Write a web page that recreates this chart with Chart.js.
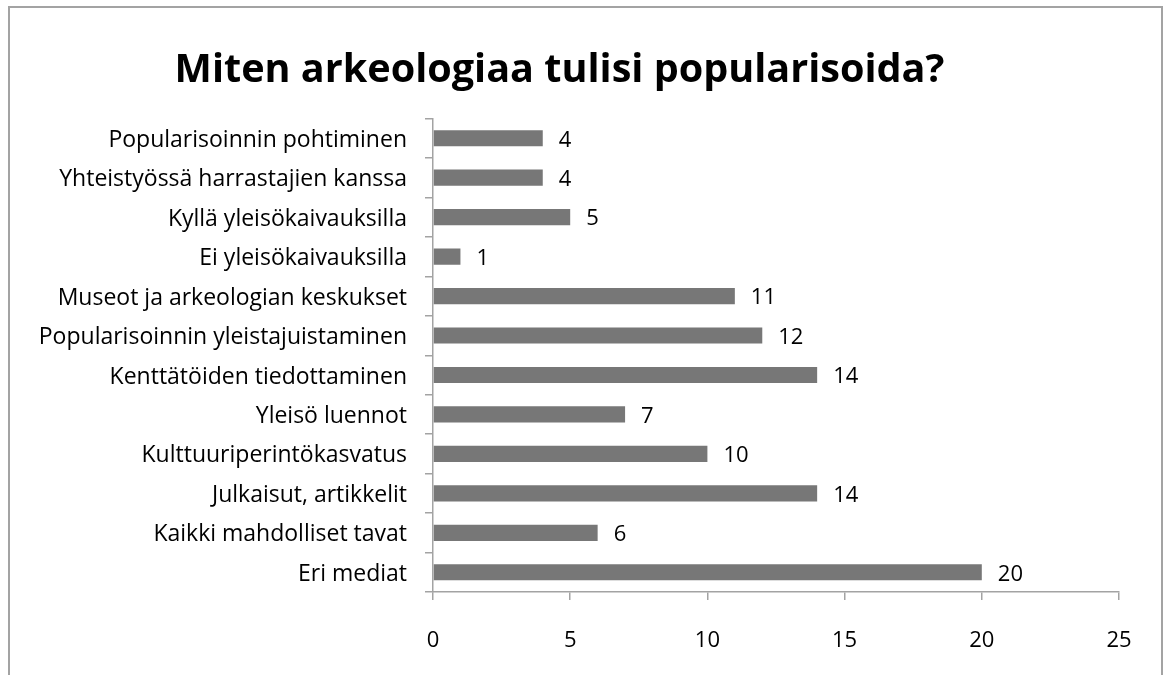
<!DOCTYPE html>
<html>
<head>
<meta charset="utf-8">
<script src="https://cdn.jsdelivr.net/npm/chart.js@4"></script>
<style>
  html, body { margin: 0; padding: 0; background: #fff; }
  #wrap { position: relative; width: 1164px; height: 675px; overflow: hidden; }
  #frame {
    position: absolute; left: 8px; top: 6px; width: 1151px; height: 700px;
    border: 2px solid #a3a3a3; border-bottom: none;
  }
  canvas { position: absolute; left: 0; top: 0; }
</style>
</head>
<body>
<div id="wrap">
  <div id="frame"></div>
  <canvas id="chart" width="1164" height="675"></canvas>
</div>
<script>
const categories = [
    'Popularisoinnin pohtiminen',
    'Yhteistyössä harrastajien kanssa',
    'Kyllä yleisökaivauksilla',
    'Ei yleisökaivauksilla',
    'Museot ja arkeologian keskukset',
    'Popularisoinnin yleistajuistaminen',
    'Kenttätöiden tiedottaminen',
    'Yleisö luennot',
    'Kulttuuriperintökasvatus',
    'Julkaisut, artikkelit',
    'Kaikki mahdolliset tavat',
    'Eri mediat'
];
const counts = [4, 4, 5, 1, 11, 12, 14, 7, 10, 14, 6, 20];
const xTicks = [0, 5, 10, 15, 20, 25];
const chartTitle = 'Miten arkeologiaa tulisi popularisoida?';

const FONT = "'Open Sans', sans-serif";
const AXIS = '#a3a3a3';

// values written to the right of each bar
const valueLabels = {
    id: 'valueLabels',
    afterDatasetsDraw(chart) {
        const c = chart.ctx;
        const meta = chart.getDatasetMeta(0);
        c.save();
        c.font = '22px ' + FONT;
        c.fillStyle = '#000';
        c.textAlign = 'left';
        c.textBaseline = 'middle';
        meta.data.forEach((bar, i) => {
            c.fillText(String(counts[i]), bar.x + 16, bar.y + 2);
        });
        c.restore();
    }
};

const ctx = document.getElementById('chart').getContext('2d');

new Chart(ctx, {
    type: 'bar',
    data: {
        labels: categories,
        datasets: [{
            data: counts,
            backgroundColor: '#777777',
            borderWidth: 0,
            barPercentage: 0.41,
            categoryPercentage: 1
        }]
    },
    options: {
        indexAxis: 'y',
        responsive: false,
        animation: false,
        layout: { padding: { left: 0, right: 45, top: 0, bottom: 0 } },
        plugins: {
            legend: { display: false },
            tooltip: { enabled: false },
            title: {
                display: true,
                text: chartTitle,
                color: '#000',
                font: { family: FONT, size: 39.6, weight: 'bold', lineHeight: 1.2 },
                padding: { top: 47, bottom: 24 }
            }
        },
        scales: {
            x: {
                min: 0,
                max: 25,
                afterBuildTicks: scale => { scale.ticks = xTicks.map(v => ({ value: v })); },
                afterFit: scale => { scale.height = 83; },
                grid: { drawOnChartArea: false, drawTicks: true, tickLength: 8, color: AXIS, lineWidth: 1.5 },
                border: { color: AXIS, width: 1.5 },
                ticks: { color: '#000', padding: 28, font: { family: FONT, size: 22 } }
            },
            y: {
                afterFit: scale => { scale.width = 433; },
                grid: { drawOnChartArea: false, drawTicks: true, tickLength: 8, color: AXIS, lineWidth: 1.5, offset: true },
                border: { color: AXIS, width: 1.5 },
                ticks: { color: '#000', padding: 18, labelOffset: 2, font: { family: FONT, size: 23 } }
            }
        }
    },
    plugins: [valueLabels]
});
</script>
</body>
</html>
